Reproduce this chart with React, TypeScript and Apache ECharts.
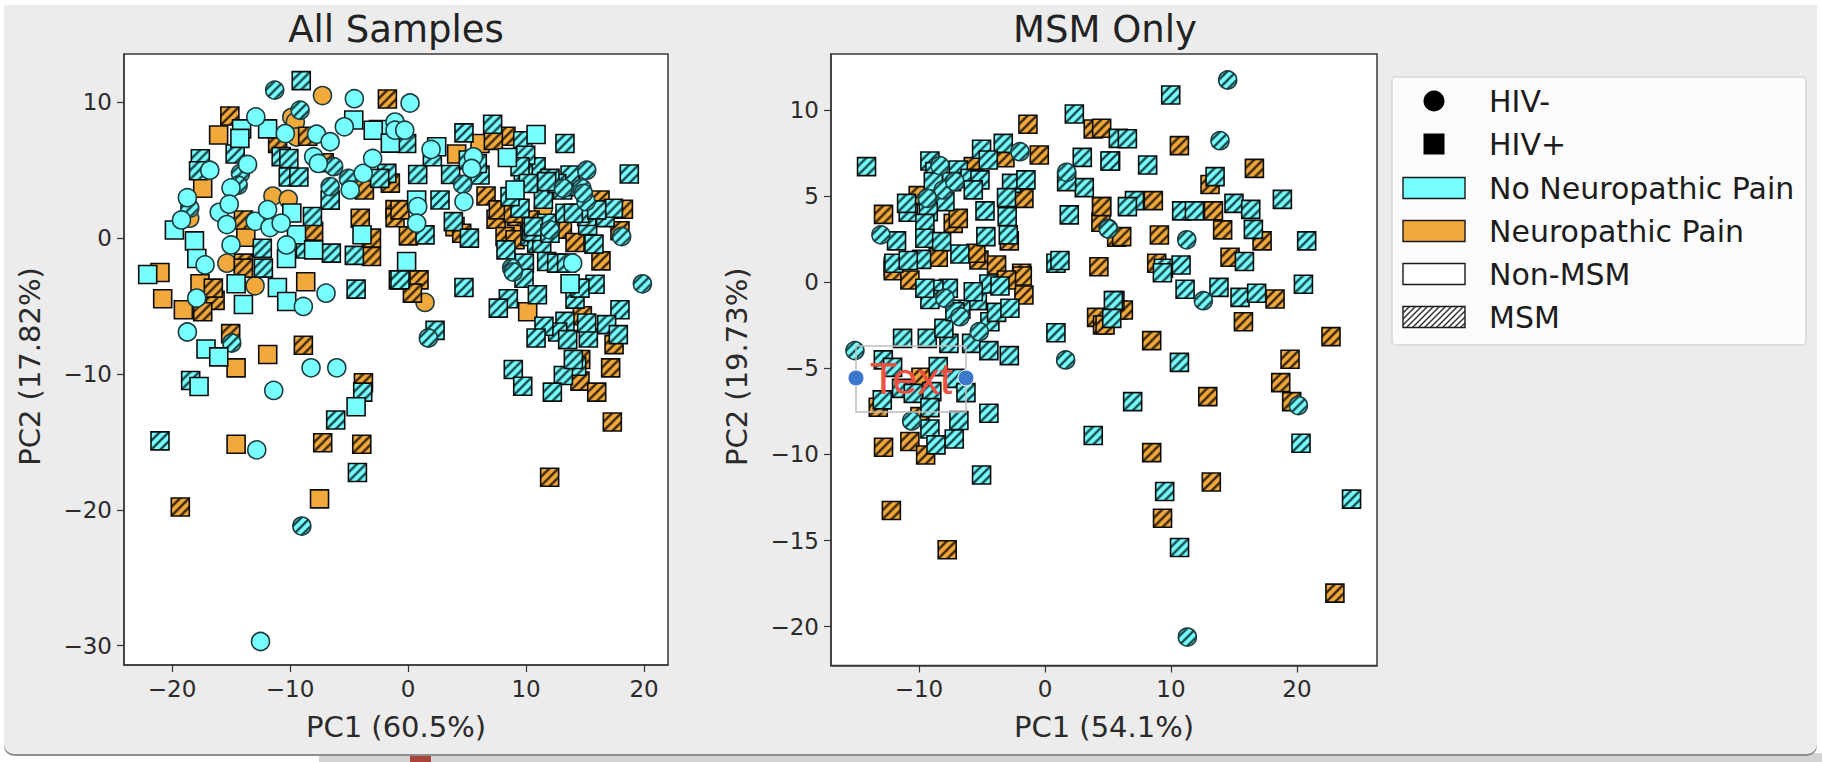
import React, { useEffect, useRef } from "react";
import * as echarts from "echarts";

const CYAN = "#78FFFF";
const ORANGE = "#F2A93B";
const FONT = "DejaVu Sans";

// ---- All Samples: [PC1, PC2] ----
const allOrangeCircles = [[-7.25,10.5],[-9.85,8.9],[-9.55,8.56],[-11.45,3.1],[-10.15,2.86],[-9.45,7.45],[-18.5,1.47],[-15.35,-1.84],[11.47,2.2],[-12.96,-3.51],[1.44,-4.73]];
const allOrangeSquares = [[-16.05,7.6],[-17.4,3.67],[-13.75,0.07],[6.1,6.97],[8.78,0.61],[4.12,6.2],[3.98,0.85],[-21.02,-2.53],[-17.63,-3.36],[-20.79,-4.46],[-19.04,-5.27],[-14.57,-9.55],[-11.89,-8.57],[-8.67,-3.21],[-14.57,-15.18],[-7.5,-19.2],[10.14,-5.42]];
const allOrangeHatchSquares = [[-1.75,10.25],[-15.1,9],[-11.05,6.97],[-7.1,5.55],[-8.5,7.5],[-4.05,1.47],[-8,0.5],[-3.1,-1.35],[-3.7,3.55],[-3.1,0],[-1.1,2.1],[-1.5,4.05],[-13.95,1.34],[-13.95,-1.84],[-1.1,1.5],[8.3,7.5],[6.61,3.1],[7.46,1.39],[9.2,1.6],[10.34,1.34],[13.08,0.66],[14.15,-0.32],[17.96,0.54],[16.27,2.81],[18.25,2.13],[4.55,0.36],[0.03,0.17],[-0.68,2.08],[7.23,7.2],[16.35,-1.67],[8.22,0.12],[7.65,2.08],[8.92,1.83],[9.07,-0.12],[-13.95,-2.21],[-16.35,-4.58],[-17.4,-5.42],[-15.03,-7.03],[-8.87,-7.89],[-3.78,-10.65],[-7.23,-15.06],[-3.92,-15.18],[-16.5,-3.68],[-19.3,-19.8],[12,-17.6],[0.93,-3.07],[0.37,-4.05],[14.77,-5.71],[17.46,-7.84],[17.17,-9.55],[14.57,-10.53],[15.99,-11.34],[17.31,-13.54],[14.63,-8.94]];
const allCyanHatchSquares = [[-9.05,11.6],[-14.65,6.2],[-17.6,5.85],[-17.75,4.96],[-10.15,4.5],[-9.25,4.5],[-10.75,6],[-10.1,5.87],[-6.6,2.8],[-8.1,1.6],[-6.5,-1.1],[-4.55,-1.27],[-8.7,-0.8],[-12.35,-0.74],[-1.8,4.77],[-2.4,4.4],[4.74,7.75],[7.17,8.39],[13.3,6.97],[18.75,4.72],[9.72,7.17],[9.72,5.99],[10.85,5.26],[9.97,6.1],[11.47,2.86],[13.1,3.55],[13.78,3.79],[13.3,1.83],[16.7,1.51],[15.22,0.93],[10.34,0.12],[15.76,-0.44],[17.4,2.2],[13.73,4.65],[6.1,4.65],[3.61,4.69],[0.82,4.69],[2.06,5.99],[9.49,2.2],[2.71,2.81],[3.84,1.22],[5.2,0],[1.44,0.24],[-0.12,6.97],[8.3,-0.86],[9.86,-1.84],[10.9,-0.37],[11.75,-1.72],[8.64,3.06],[11.75,1.1],[5.87,5.5],[5.11,5.75],[11.33,-0.37],[10.48,0.49],[10.62,0.85],[12.03,0.36],[12.6,-1.84],[13.44,-1.84],[15.14,1.59],[14.57,1.83],[15.99,2.08],[14.01,1.83],[12.6,4.03],[12.03,4.4],[11.75,4.16],[9.77,4.77],[9.49,5.26],[10.2,4.03],[-12.26,-2.21],[-4.4,-3.75],[-18.42,-10.48],[-3.84,-11.34],[-6.13,-13.39],[-21.02,-14.93],[-4.29,-17.26],[-0.82,-3.07],[4.74,-3.63],[-0.68,-3.07],[9.83,-2.95],[10.96,-4.17],[8.5,-4.46],[7.65,-5.15],[14.15,-4.49],[15.85,-3.39],[14.57,-3.68],[17.96,-5.27],[16.83,-6.37],[17.82,-7.1],[15.28,-7.35],[13.3,-6.13],[12.68,-6.91],[13.53,-7.47],[15.14,-6.25],[11.52,-6.49],[10.85,-7.35],[2.29,-6.79],[14.29,-9.43],[13.16,-10.11],[8.92,-9.67],[9.72,-10.9],[12.23,-11.34],[14.01,-8.94]];
const allCyanHatchCircles = [[-11.3,10.9],[-9.15,9.42],[-6.6,3.8],[-5.05,4.4],[-6.3,5.26],[-14.2,4.77],[-14.4,3.9],[-18.5,2.2],[4.63,3.96],[15.14,5],[15.08,2.69],[18.1,0.12],[13.16,3.67],[12.03,0.61],[8.78,-2.2],[14.72,3.67],[14.86,3.3],[-14.94,-7.72],[-9,-21.2],[1.72,-7.35],[19.86,-3.36],[8.92,-2.5]];
const allCyanSquares = [[-4.6,8.7],[-2.5,8],[-14.1,8.05],[-11.9,8.05],[-14.25,7.35],[-3.9,0.25],[-18.1,-0.2],[-19.8,0.6],[-10.3,-1.5],[-9.45,0.25],[-9.85,1.85],[-17.9,-1.5],[-8,-0.86],[-2.95,7.95],[-1.5,7],[10.85,7.63],[2.43,6.73],[8.42,5.94],[9.07,3.55],[0.73,2.81],[-0.12,-1.72],[-22.06,-2.68],[-17.12,-8.16],[-16.04,-8.74],[-17.71,-10.92],[-14.57,-3.36],[-13.95,-4.88],[-11.07,-3.63],[-10.28,-4.66],[-4.4,-12.41],[13.73,-3.36]];
const allCyanCircles = [[-12.9,8.93],[-4.55,10.27],[-7.75,7.65],[-5.4,8.2],[-6.6,7.1],[-1.1,8.55],[-1.1,7.95],[-16.8,5],[-13.6,5.43],[-15,3.7],[-18.7,2.98],[-19.2,1.34],[-16,1.9],[-15.15,2.5],[-15.35,1],[-12.95,1.24],[-11.7,0.78],[-11.9,2.1],[-10.75,1.1],[-15,-0.5],[-10.3,-0.5],[-4.9,3.55],[-3.8,4.77],[-3,5.87],[-8,6],[-7.6,5.5],[-10.4,7.7],[0.17,9.95],[-0.28,7.95],[1.95,6.53],[5.54,5.99],[5.39,5.13],[4.74,2.69],[0.82,2.32],[0.73,1.1],[13.95,-1.84],[-17.2,-1.97],[-6.95,-4.05],[-8.87,-5.03],[-17.91,-4.41],[-18.7,-6.91],[-8.22,-9.55],[-6.04,-9.55],[-11.38,-11.21],[-12.82,-15.59],[-12.5,-29.7]];

// ---- MSM Only: [PC1, PC2] ----
const msmOrangeSquares = [[-1.35,9.17],[3.83,8.9],[-0.45,7.39],[-3.18,7.23],[-12.81,3.94],[-7.28,3.42],[-6.88,3.71],[-2.83,2.4],[-1.67,4.87],[4.49,4.39],[4.44,3.48],[-10.06,5.03],[-8.47,1.45],[-5.24,1.29],[-3.84,1],[-5.48,1.68],[-12.04,0.91],[-1.85,0.52],[4.28,0.9],[5.69,2.61],[-5.69,6.71],[10.67,7.93],[16.62,6.61],[13.1,5.67],[8.6,4.74],[13.37,4.14],[14.1,3.04],[17.23,2.4],[9.08,2.74],[6.09,2.65],[4.5,8.94],[4.5,4.39],[14.69,1.45],[8.87,1.1],[-12.04,0.67],[-10.72,0.13],[-1.8,0.36],[-1.67,-0.74],[-3.05,0.13],[4.1,-2.04],[4.57,-2.48],[5.82,-1.61],[-9.84,-5.52],[-13.23,-7.26],[-10.72,-9.25],[-12.81,-9.58],[-9.47,-10.03],[-9.92,-7.8],[6.22,-1.61],[4.77,-2.48],[18.26,-0.97],[15.75,-2.29],[8.47,-3.39],[22.7,-3.16],[19.45,-4.47],[18.71,-5.83],[19.58,-6.93],[12.92,-6.64],[8.47,-9.89],[13.2,-11.6],[9.33,-13.7],[-12.19,-13.25],[-7.76,-15.53],[23.01,-18.05]];
const msmCyanSquares = [[2.33,9.77],[-14.16,6.71],[-5.03,7.72],[-3.31,8.06],[-4.5,7.1],[2.96,7.25],[5.21,7.04],[-9.13,7.04],[-8.73,6.42],[-6.88,6.52],[-5.95,6.03],[-5.16,5.94],[-7.41,5.84],[-8.86,5.84],[-5.69,5.36],[-2.65,5.74],[-1.51,5.94],[3.12,5.49],[1.72,5.84],[-7.94,4.68],[-10.85,4.06],[-9.26,4.1],[-9.53,3.42],[-4.76,4.14],[-3.05,4.91],[-3,3.81],[1.93,3.91],[-9.53,2.55],[-8.2,2.36],[-11.78,2.4],[-4.69,2.65],[-2.91,2.75],[-11.99,1.1],[-9.79,1.33],[-10.85,1.26],[-6.75,1.64],[0.87,1.1],[1.19,1.26],[5.82,8.35],[-10.98,4.58],[9.98,10.87],[6.54,8.33],[5.16,7.04],[8.15,6.81],[13.5,6.13],[7.1,4.74],[6.54,4.39],[15,4.58],[16.33,4.23],[18.84,4.81],[10.85,4.14],[11.86,4.14],[16.54,3.07],[20.77,2.4],[10.8,1],[9.4,0.81],[15.83,1.2],[-11.3,-3.26],[-9.34,-3.26],[-7.62,-3.55],[-5.82,-3.55],[-4.45,-3.97],[-2.83,-4.26],[-12.83,-4.51],[-12.09,-4.94],[-8.47,-4.9],[-7.15,-5.58],[-11.38,-6.16],[-10.45,-6.45],[-8.98,-6.35],[-6.27,-6.41],[-12.91,-6.83],[-9.13,-7.28],[-4.45,-7.61],[-6.83,-8.03],[-9.13,-8.52],[-7.2,-9.1],[-8.65,-9.44],[3.83,-8.9],[-5.03,-11.19],[0.87,-2.93],[-8.02,-2.68],[-4.37,-2.29],[-3.84,-1.75],[-2.78,-1.51],[-5.37,-1.07],[-6.67,-1.57],[-7.15,-1.71],[-4.45,-0.1],[-3.57,-0.22],[-5.69,-0.55],[-7.67,-0.35],[-8.81,-0.41],[-9.13,-1],[-9.53,-0.35],[5.55,-1.07],[20.51,-0.12],[11.12,-0.41],[13.81,-0.3],[15.48,-0.88],[16.8,-0.64],[5.43,-1.07],[5.3,-2.1],[9.32,0.55],[10.67,-4.65],[6.96,-6.93],[20.32,-9.35],[9.5,-12.15],[10.68,-15.4],[24.33,-12.59]];
const msmCyanCircles = [[-1.99,7.58],[1.72,6.38],[-8.34,6.77],[-8.07,5.36],[-9.34,4.87],[-13.02,2.75],[5.02,3.13],[-7.15,5.84],[14.5,11.74],[13.89,8.22],[5.03,3.09],[11.25,2.46],[-15.08,-3.97],[-5.21,-2.87],[1.64,-4.51],[-10.58,-8.05],[-6.75,-2],[-7.94,-0.93],[12.57,-1.07],[20.11,-7.16],[11.3,-20.6]];

const xTicksAll = [-20, -10, 0, 10, 20];
const yTicksAll = [-30, -20, -10, 0, 10];
const xTicksMsm = [-10, 0, 10, 20];
const yTicksMsm = [-20, -15, -10, -5, 0, 5, 10];

const legendLabels = ["HIV-", "HIV+", "No Neuropathic Pain", "Neuropathic Pain", "Non-MSM", "MSM"];

const SIZE = 18;

function hatchTile(bg: string, stripe: string, pitch: number, lw: number) {
  const c = document.createElement("canvas");
  c.width = pitch;
  c.height = pitch;
  const g = c.getContext("2d")!;
  g.fillStyle = bg;
  g.fillRect(0, 0, pitch, pitch);
  g.strokeStyle = stripe;
  g.lineWidth = lw;
  for (const o of [-pitch, 0, pitch]) {
    g.beginPath();
    g.moveTo(o - 1, pitch + 1);
    g.lineTo(o + pitch + 1, -1);
    g.stroke();
  }
  return c;
}

function hatch(bg: string, stripe: string, pitch: number, lw: number, scale: number) {
  return {
    image: hatchTile(bg, stripe, pitch, lw),
    repeat: "repeat",
    imageWidth: pitch,
    imageHeight: pitch,
    scaleX: scale,
    scaleY: scale,
  };
}

function layer(idx: number, data: number[][], symbol: string, color: any, edge: string) {
  return {
    type: "scatter",
    xAxisIndex: idx,
    yAxisIndex: idx,
    data,
    symbol,
    symbolSize: SIZE,
    silent: true,
    itemStyle: { color, borderColor: edge, borderWidth: 1.6, opacity: 1 },
  };
}

const fmt = (v: number) => String(v).replace("-", "\u2212");

const line = { show: true, onZero: false, lineStyle: { color: "#3a3a3a", width: 1.5 } };

function xAxis(idx: number, min: number, max: number, ticks: number[], name: string) {
  return {
    type: "value", gridIndex: idx, min, max, name, nameLocation: "middle", nameGap: 47,
    nameTextStyle: { fontFamily: FONT, fontSize: 29, color: "#2a2a2a" },
    splitLine: { show: false },
    axisLine: line,
    axisTick: { show: true, length: 7, customValues: ticks, lineStyle: { color: "#333", width: 1.2 } },
    axisLabel: { customValues: ticks, formatter: fmt, fontFamily: FONT, fontSize: 23, color: "#2a2a2a", margin: 12 },
  };
}

function yAxis(idx: number, min: number, max: number, ticks: number[], name: string, gap: number) {
  return {
    type: "value", gridIndex: idx, min, max, name, nameLocation: "middle", nameGap: gap, nameRotate: 90,
    nameTextStyle: { fontFamily: FONT, fontSize: 29, color: "#2a2a2a", padding: [0, 14, 0, 0] },
    splitLine: { show: false },
    axisLine: line,
    axisTick: { show: true, length: 7, customValues: ticks, lineStyle: { color: "#333", width: 1.2 } },
    axisLabel: { customValues: ticks, formatter: fmt, fontFamily: FONT, fontSize: 23, color: "#2a2a2a", margin: 12 },
  };
}

function legendGraphics() {
  const textX = 1489;
  const rows = [101, 144, 188, 231, 274, 317];
  const patchX = 1403;
  const patch = (y: number, fill: any) => ({
    type: "rect", z: 20, shape: { x: patchX, y: y - 10.5, width: 62, height: 21 },
    style: { fill, stroke: "#1a1a1a", lineWidth: 1.4 },
  });
  return [
    { type: "rect", z: 19, shape: { x: 1392, y: 77, width: 414, height: 268, r: 4 }, style: { fill: "#FBFBFB", stroke: "#D6D6D6", lineWidth: 1.5 } },
    { type: "circle", z: 20, shape: { cx: 1434, cy: rows[0], r: 10.5 }, style: { fill: "#000" } },
    { type: "rect", z: 20, shape: { x: 1423.5, y: rows[1] - 10.5, width: 21, height: 21 }, style: { fill: "#000" } },
    patch(rows[2], CYAN),
    patch(rows[3], ORANGE),
    patch(rows[4], "#fff"),
    patch(rows[5], hatch("#fff", "#333", 6, 1.5, 1)),
    ...legendLabels.map((t, i) => ({
      type: "text", z: 20, x: textX, y: rows[i],
      style: { text: t, fontFamily: FONT, fontSize: 30, fill: "#1c1c1c", verticalAlign: "middle" },
    })),
  ];
}

function frameGraphics() {
  return [
    { type: "rect", z: -10, shape: { x: 0, y: 0, width: 1822, height: 762 }, style: { fill: "#fff" } },
    { type: "rect", z: -9, shape: { x: 319, y: 753, width: 1503, height: 9 }, style: { fill: "#D4D4D4" } },
    { type: "rect", z: -9, shape: { x: 410, y: 755, width: 21, height: 7 }, style: { fill: "#A8433A" } },
    { type: "rect", z: -9, shape: { x: 4, y: 6, width: 1813, height: 750, r: [0, 0, 10, 10] }, style: { fill: "#8f8f8f" } },
    { type: "rect", z: -8, shape: { x: 4, y: 5, width: 1813, height: 749, r: [0, 0, 10, 10] }, style: { fill: "#ECECEC" } },
  ];
}

function annotationGraphics() {
  return [
    { type: "rect", z: 30, shape: { x: 856, y: 346, width: 110, height: 66 }, style: { fill: "none", stroke: "#BDBDBD", lineWidth: 1.5 } },
    { type: "text", z: 31, x: 911, y: 378, style: { text: "Text", fontFamily: "Liberation Sans", fontSize: 45, fill: "#EE4F3F", align: "center", verticalAlign: "middle" } },
    { type: "circle", z: 32, shape: { cx: 856, cy: 378, r: 8 }, style: { fill: "#3C78CC", stroke: "#fff", lineWidth: 1 } },
    { type: "circle", z: 32, shape: { cx: 966, cy: 378, r: 8 }, style: { fill: "#3C78CC", stroke: "#fff", lineWidth: 1 } },
  ];
}

export default function App() {
  const ref = useRef<HTMLDivElement>(null);
  useEffect(() => {
    document.body.style.margin = "0";
    const chart = echarts.init(ref.current!, null, { renderer: "svg" });
    const scale = 2 / SIZE;
    const cyanHatch = hatch(CYAN, "#17484B", 9, 2.4, scale);
    const orangeHatch = hatch(ORANGE, "#3A2607", 9, 2.4, scale);
    const edge = "#0c0c0c";
    const circleEdge = "#1d3b3e";
    chart.setOption({
      animation: false,
      backgroundColor: "#fff",
      title: [
        { text: "All Samples", left: 391, top: 6, textAlign: "center", textStyle: { fontFamily: FONT, fontSize: 37, fontWeight: "normal", color: "#222" } },
        { text: "MSM Only", left: 1100, top: 6, textAlign: "center", textStyle: { fontFamily: FONT, fontSize: 37, fontWeight: "normal", color: "#222" } },
      ],
      grid: [
        { left: 124, top: 54, width: 544, height: 611, show: true, backgroundColor: "#fff", borderColor: "#3a3a3a", borderWidth: 1.5 },
        { left: 831, top: 54, width: 546, height: 611.5, show: true, backgroundColor: "#fff", borderColor: "#3a3a3a", borderWidth: 1.5 },
      ],
      xAxis: [
        xAxis(0, -24.07, 22.03, xTicksAll, "PC1 (60.5%)"),
        xAxis(1, -16.98, 26.35, xTicksMsm, "PC1 (54.1%)"),
      ],
      yAxis: [
        yAxis(0, -31.43, 13.56, yTicksAll, "PC2 (17.82%)", 80),
        yAxis(1, -22.25, 13.25, yTicksMsm, "PC2 (19.73%)", 80),
      ],
      series: [
        layer(0, allOrangeCircles, "circle", ORANGE, circleEdge),
        layer(0, allOrangeSquares, "rect", ORANGE, edge),
        layer(0, allOrangeHatchSquares, "rect", orangeHatch, edge),
        layer(0, allCyanHatchSquares, "rect", cyanHatch, edge),
        layer(0, allCyanHatchCircles, "circle", cyanHatch, circleEdge),
        layer(0, allCyanSquares, "rect", CYAN, edge),
        layer(0, allCyanCircles, "circle", CYAN, circleEdge),
        layer(1, msmOrangeSquares, "rect", orangeHatch, edge),
        layer(1, msmCyanSquares, "rect", cyanHatch, edge),
        layer(1, msmCyanCircles, "circle", cyanHatch, circleEdge),
      ],
      graphic: { elements: [...frameGraphics(), ...legendGraphics(), ...annotationGraphics()] },
    });
    return () => chart.dispose();
  }, []);
  return <div ref={ref} style={{ position: "absolute", left: 0, top: 0, width: 1822, height: 762, overflow: "hidden" }} />;
}
